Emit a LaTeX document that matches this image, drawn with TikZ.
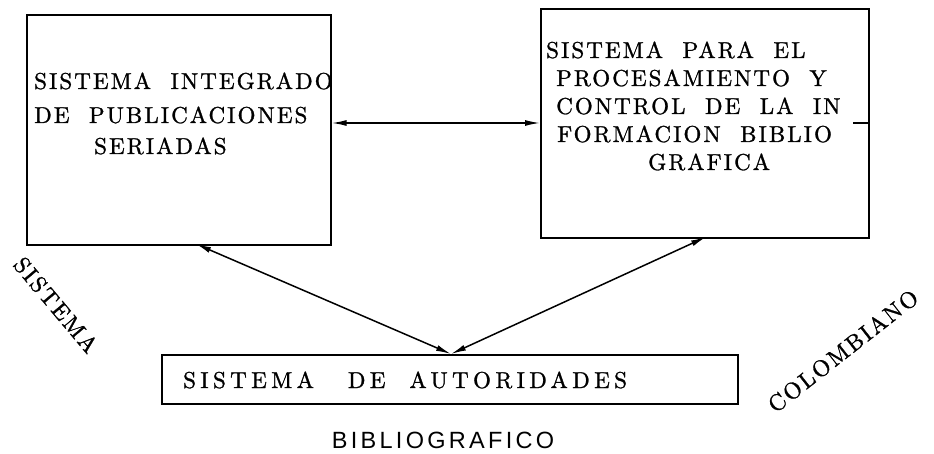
\documentclass[tikz,border=0pt]{standalone}
\usepackage{fontspec}
\usetikzlibrary{arrows.meta}
\newfontfamily\boxfont{lmroman10-regular.otf}[LetterSpace=9,WordSpace=2.0,FakeBold=1.2]
\newfontfamily\widefont{lmroman10-regular.otf}[LetterSpace=19,WordSpace=2.0,FakeBold=1.2]
\newfontfamily\capfont{Liberation Sans}[LetterSpace=14]
\tikzset{
  box/.style={draw, line width=1.6pt, inner sep=0pt},
  txt/.style={inner sep=0pt, anchor=base west, font=\boxfont\fontsize{23}{27}\selectfont},
  link/.style={line width=1.5pt, {Latex[length=15pt,width=6pt]}-{Latex[length=15pt,width=6pt]}},
}
\begin{document}
\begin{tikzpicture}[x=1pt,y=-1pt]
\useasboundingbox (0,0) rectangle (934,454);
% boxes
\node[box, minimum width=304pt, minimum height=230pt, anchor=north west] (b1) at (26,14) {};
\node[box, minimum width=328pt, minimum height=229pt, anchor=north west] (b2) at (540,8) {};
\node[box, minimum width=576pt, minimum height=49pt, anchor=north west] (b3) at (161,354) {};
% box 1 text
\node[txt] (t11) at (34,89) {SISTEMA INTEGRADO};
\node[txt] (t12) at (34,123) {DE PUBLICACIONES};
\node[txt] (t13) at (94,154) {SERIADAS};
% box 2 text
\node[txt] (t21) at (546,58) {SISTEMA PARA EL};
\node[txt] (t22) at (556,86) {PROCESAMIENTO Y};
\node[txt] (t23) at (556,114) {CONTROL DE LA IN};
\node[txt] (t24) at (557,142) {FORMACION BIBLIO};
\node[txt] (t25) at (648,170) {GRAFICA};
% bottom box text
\node[txt, font=\widefont\fontsize{23}{27}\selectfont] (t31) at (183,388) {SISTEMA\hspace{34pt}DE\hspace{24pt}AUTORIDADES};
% outer labels
\node[inner sep=0pt, font=\boxfont\fontsize{23}{27}\selectfont, rotate=-50] (s1) at (56,305) {SISTEMA};
\node[inner sep=0pt, font=\boxfont\fontsize{23}{27}\selectfont, rotate=38] (s2) at (843,351) {COLOMBIANO};
\node[inner sep=0pt, anchor=base, font=\capfont\fontsize{23.5}{27}\selectfont] (s3) at (443,448) {BIBLIOGRAFICO};
% connectors
\coordinate (p1) at (196,244);
\coordinate (p2) at (706,237);
\coordinate (q) at (451,354);
\draw[link] (b1.east |- 0,123) -- (b2.west |- 0,123);
\draw[link] (p1) -- (q);
\draw[link] (p2) -- (q);
\coordinate (stub) at (853,123);
\draw[line width=1.5pt] (stub) -- (b2.east |- stub);
\end{tikzpicture}
\end{document}
